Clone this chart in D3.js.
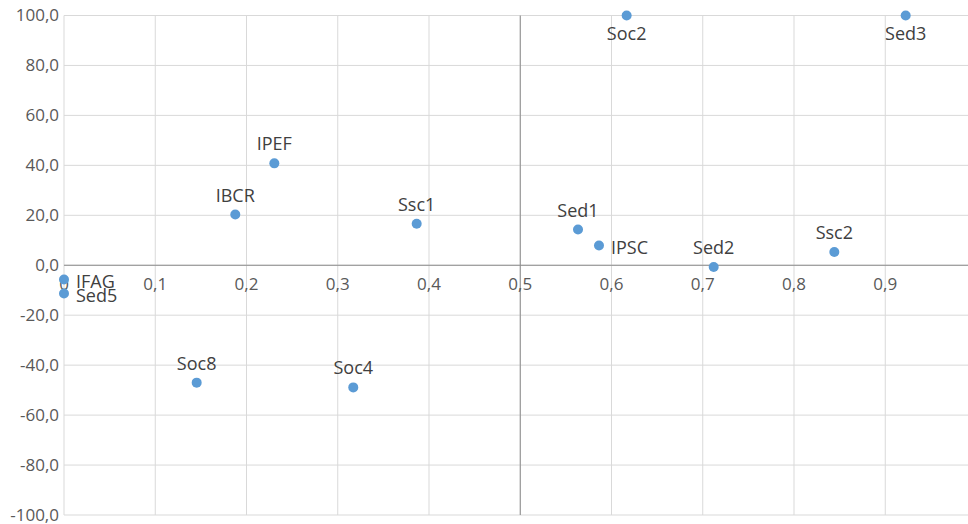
<!DOCTYPE html>
<html><head><meta charset="utf-8">
<script src="https://cdn.jsdelivr.net/npm/d3@7"></script>
<style>
html,body{margin:0;padding:0;background:#fff;}
svg{display:block;font-family:"Open Sans",sans-serif;}
</style></head>
<body>
<svg id="chart" width="968" height="524"></svg>
<script>
const names = ["IFAG","Sed5","IPEF","IBCR","Ssc1","Soc8","Soc4","Soc2","Sed3","Sed1","IPSC","Sed2","Ssc2"];
const xValues = [0, 0, 0.2305, 0.1877, 0.3865, 0.1454, 0.317, 0.6166, 0.9224, 0.5633, 0.5863, 0.712, 0.8442];
const yValues = [-5.7, -11.3, 40.8, 20.3, 16.6, -47.0, -48.9, 100, 100, 14.3, 7.9, -0.7, 5.3];
const labelPos = ["right","right","above","above","above","above","above","below","below","above","right","above","above"];
const xTicks = [0,0.1,0.2,0.3,0.4,0.5,0.6,0.7,0.8,0.9];
const xTickLabels = ["0","0,1","0,2","0,3","0,4","0,5","0,6","0,7","0,8","0,9"];
const yTicks = [-100,-80,-60,-40,-20,0,20,40,60,80,100];
const yTickLabels = ["-100,0","-80,0","-60,0","-40,0","-20,0","0,0","20,0","40,0","60,0","80,0","100,0"];

const svg = d3.select("#chart");
const x = d3.scaleLinear().domain([0,1]).range([64, 976.5]);
const y = d3.scaleLinear().domain([-100,100]).range([515, 15.5]);
const right = 968;

// horizontal gridlines
svg.append("g").selectAll("line").data(yTicks).join("line")
  .attr("x1", x(0)).attr("x2", right)
  .attr("y1", d=>y(d)).attr("y2", d=>y(d))
  .attr("stroke", "#d9d9d9").attr("stroke-width", 1);
// vertical gridlines
svg.append("g").selectAll("line").data(xTicks).join("line")
  .attr("x1", d=>x(d)).attr("x2", d=>x(d))
  .attr("y1", y(100)).attr("y2", y(-100))
  .attr("stroke", "#d9d9d9").attr("stroke-width", 1);

// axis lines
svg.append("line").attr("x1", x(0)).attr("x2", right).attr("y1", y(0)).attr("y2", y(0))
  .attr("stroke", "#8c8c8c").attr("stroke-width", 1);
svg.append("line").attr("x1", x(0.5)).attr("x2", x(0.5)).attr("y1", y(100)).attr("y2", y(-100))
  .attr("stroke", "#8c8c8c").attr("stroke-width", 1);

// y tick labels
svg.append("g").selectAll("text").data(yTicks).join("text")
  .attr("x", 59).attr("y", d=>y(d)).attr("dy", "0.35em")
  .attr("text-anchor", "end").attr("fill", "#595959").attr("font-size", 17)
  .text((d,i)=>yTickLabels[i]);

// x tick labels
svg.append("g").selectAll("text").data(xTicks).join("text")
  .attr("x", d=>x(d)).attr("y", y(0) + 25)
  .attr("text-anchor", "middle").attr("fill", "#595959").attr("font-size", 17)
  .text((d,i)=>xTickLabels[i]);

// points
const data = names.map((n,i)=>({n, x:xValues[i], y:yValues[i], p:labelPos[i]}));
svg.append("g").selectAll("circle").data(data).join("circle")
  .attr("cx", d=>x(d.x)).attr("cy", d=>y(d.y)).attr("r", 5)
  .attr("fill", "#5b9bd5");

// labels
svg.append("g").selectAll("text").data(data).join("text")
  .attr("x", d=> d.p==="right" ? x(d.x)+12 : x(d.x))
  .attr("y", d=> d.p==="above" ? y(d.y)-13 : d.p==="below" ? y(d.y)+24 : y(d.y)+2)
  .attr("dy", d=> d.p==="right" ? "0.35em" : 0)
  .attr("text-anchor", d=> d.p==="right" ? "start" : "middle")
  .attr("fill", "#404040").attr("font-size", 18)
  .text(d=>d.n);
</script>
</body></html>
